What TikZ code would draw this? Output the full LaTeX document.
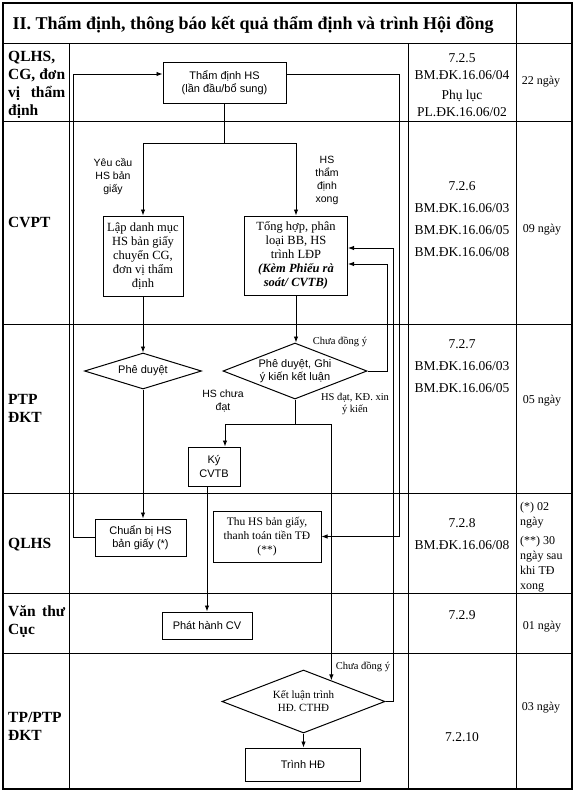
\documentclass[tikz,border=0pt]{standalone}
\usepackage{fontspec}
\setmainfont{Liberation Serif}
\setsansfont{Liberation Sans}
\usetikzlibrary{shapes.geometric,arrows.meta,calc}

\begin{document}
\begin{tikzpicture}[x=1pt,y=-1pt,>={Latex[length=6pt,width=4.5pt]},
    bang/.style={line width=0.8pt},
    hop/.style={draw,line width=1pt,align=center,inner sep=1pt,
        font=\sffamily\fontsize{11}{13.5}\selectfont},
    hopchu/.style={hop,font=\fontsize{12.5}{14}\selectfont},
    thoi/.style={draw,diamond,line width=1pt,align=center,inner sep=0pt,
        font=\sffamily\fontsize{11}{13}\selectfont},
    noi/.style={line width=0.9pt},
    nhan/.style={align=center,font=\sffamily\fontsize{10.5}{13}\selectfont},
    nhanchu/.style={align=center,font=\fontsize{10.5}{12.5}\selectfont},
    vaitro/.style={anchor=west,align=left,text width=57pt,inner sep=0pt,
        font=\bfseries\fontsize{15.5}{18}\selectfont},
    maso/.style={align=center,font=\fontsize{13.5}{22}\selectfont},
    ngay/.style={align=left,font=\fontsize{12}{15}\selectfont}]
    \useasboundingbox (0,0) rectangle (575,793);

    % Table.
    \draw[bang,line width=1.1pt] (3,3) rectangle (572,789);
    \foreach \yy in {43,121,324,493,593,653}{
        \draw[bang] (3,\yy) -- (572,\yy);
    }
    \draw[bang] (69,43) -- (69,789);
    \draw[bang] (408,43) -- (408,789);
    \draw[bang] (516,3) -- (516,789);
    \node[anchor=west,font=\bfseries\fontsize{18}{20}\selectfont] (tieude)
        at (9,25) {II. Thẩm định, thông báo kết quả thẩm định và trình Hội đồng};

    % Roles.
    \node[vaitro] (vt-qlhs-cg) at (8,84.5) {QLHS,\\CG,\hfill đơn\\vị\hfill thẩm\\định};
    \node[vaitro] (vt-cvpt) at (8,222) {CVPT};
    \node[vaitro] (vt-ptp) at (8,408.5) {PTP\\ĐKT};
    \node[vaitro] (vt-qlhs) at (8,545) {QLHS};
    \node[vaitro] (vt-vanthu) at (8,621.5) {Văn\hfill thư\\Cục};
    \node[vaitro] (vt-tp) at (8,726) {TP/PTP\\ĐKT};

    % Forms and days.
    \node[maso,font=\fontsize{13.5}{17}\selectfont] (ms-1) at (462,85)
        {7.2.5\\BM.ĐK.16.06/04\\[3pt]Phụ lục\\PL.ĐK.16.06/02};
    \node[maso] (ms-2) at (462,219)
        {7.2.6\\BM.ĐK.16.06/03\\BM.ĐK.16.06/05\\BM.ĐK.16.06/08};
    \node[maso] (ms-3) at (462,366) {7.2.7\\BM.ĐK.16.06/03\\BM.ĐK.16.06/05};
    \node[maso] (ms-4) at (462,534) {7.2.8\\BM.ĐK.16.06/08};
    \node[maso] (ms-5) at (462,615) {7.2.9};
    \node[maso] (ms-6) at (462,737) {7.2.10};
    \node[ngay] (ng-1) at (541,82) {22 ngày};
    \node[ngay] (ng-2) at (542,230) {09 ngày};
    \node[ngay] (ng-3) at (542,401) {05 ngày};
    \node[ngay,anchor=west,inner sep=0pt] (ng-4) at (520,547)
        {(*) 02\\ngày\\[4pt](**) 30\\ngày sau\\khi TĐ\\xong};
    \node[ngay] (ng-5) at (542,627) {01 ngày};
    \node[ngay] (ng-6) at (541,708) {03 ngày};

    % Steps.
    \node[hop,minimum width=123pt,minimum height=41pt] (thamdinh)
        at (224.5,82.5) {Thẩm định HS\\(lần đầu/bổ sung)};
    \node[hopchu,minimum width=80pt,minimum height=80pt] (lapdanhmuc)
        at (143,256) {Lập danh mục\\HS bản giấy\\chuyển CG,\\đơn vị thẩm\\định};
    \node[hopchu,minimum width=103pt,minimum height=79pt] (tonghop)
        at (296,255.5) {Tổng hợp, phân\\loại BB, HS\\trình LĐP\\
        \textbf{\textit{(Kèm Phiếu rà}}\\\textbf{\textit{soát/ CVTB)}}};
    \node[thoi,aspect=3.25,minimum width=117pt,minimum height=36pt] (pheduyet)
        at (143,371) {Phê duyệt};
    \node[thoi,aspect=2.6,minimum width=144pt,minimum height=56pt] (ghiykien)
        at (295,371) {Phê duyệt, Ghi\\ý kiến kết luận};
    \node[hop,minimum width=52pt,minimum height=39pt] (kycvtb)
        at (214,466.5) {Ký\\CVTB};
    \node[hop,minimum width=91pt,minimum height=37pt] (chuanbi)
        at (140.5,537.5) {Chuẩn bị HS\\bản giấy (*)};
    \node[hopchu,minimum width=108pt,minimum height=51pt,
        font=\fontsize{11.5}{14}\selectfont] (thuhs)
        at (267,536.5) {Thu HS bản giấy,\\thanh toán tiền TĐ\\(**)};
    \node[hop,minimum width=90pt,minimum height=27pt] (phathanh)
        at (207,625.5) {Phát hành CV};
    \node[thoi,aspect=2.6,minimum width=163pt,minimum height=63pt,
        font=\fontsize{11}{13}\selectfont] (ketluan)
        at (303.5,701.5) {Kết luận trình\\HĐ. CTHĐ};
    \node[hop,minimum width=115pt,minimum height=33pt] (trinhhd)
        at (303,764.5) {Trình HĐ};

    % Connectors.
    \coordinate (vong-trai) at (73,74);
    \draw[noi,->] (chuanbi.west) -| (vong-trai) -- (thamdinh.west |- vong-trai);
    \coordinate (ray-thu) at (399,74);
    \draw[noi,->] (thamdinh.east |- ray-thu) -- (ray-thu) |- (thuhs.east);
    \coordinate (tach-tren) at (224.5,143);
    \draw[noi] (thamdinh.south) -- (tach-tren);
    \draw[noi,->] (tach-tren) -| (lapdanhmuc.north);
    \draw[noi,->] (tach-tren) -| (tonghop.north);
    \node[nhan] (yeucau-label) at (113,177) {Yêu cầu\\HS bản\\giấy};
    \node[nhan] (xong-label) at (327,180) {HS\\thẩm\\định\\xong};
    \draw[noi,->] (lapdanhmuc.south) -- (pheduyet.north);
    \draw[noi,->] (pheduyet.south) -- (pheduyet.south |- chuanbi.north);
    \draw[noi,->] (tonghop.south) -- (tonghop.south |- ghiykien.north);
    \coordinate (ray-a) at (387,264);
    \draw[noi,->] (ghiykien.east) -| (ray-a) -- (tonghop.east |- ray-a);
    \node[nhanchu] (chuadongy-a) at (340,342) {Chưa đồng ý};
    \coordinate (tach-giua) at (295,424);
    \draw[noi] (ghiykien.south) -- (tach-giua);
    \draw[noi,->] (tach-giua) -| ([xshift=11pt]kycvtb.north);
    \coordinate (ketluan-vao) at ($(ketluan.north)!0.34!(ketluan.east)$);
    \draw[noi,->] (tach-giua) -| (ketluan-vao);
    \node[nhan] (chuadat-label) at (223,401) {HS chưa\\đạt};
    \node[nhanchu] (dat-label) at (355,404) {HS đạt, KĐ. xin\\ý kiến};
    \draw[noi,->] (kycvtb.south -| phathanh.north) -- (phathanh.north);
    \coordinate (ray-b) at (393,248);
    \draw[noi,->] (ketluan.east) -| (ray-b) -- (tonghop.east |- ray-b);
    \node[nhanchu] (chuadongy-b) at (363,667) {Chưa đồng ý};
    \draw[noi,->] (ketluan.south) -- (ketluan.south |- trinhhd.north);
\end{tikzpicture}
\end{document}
